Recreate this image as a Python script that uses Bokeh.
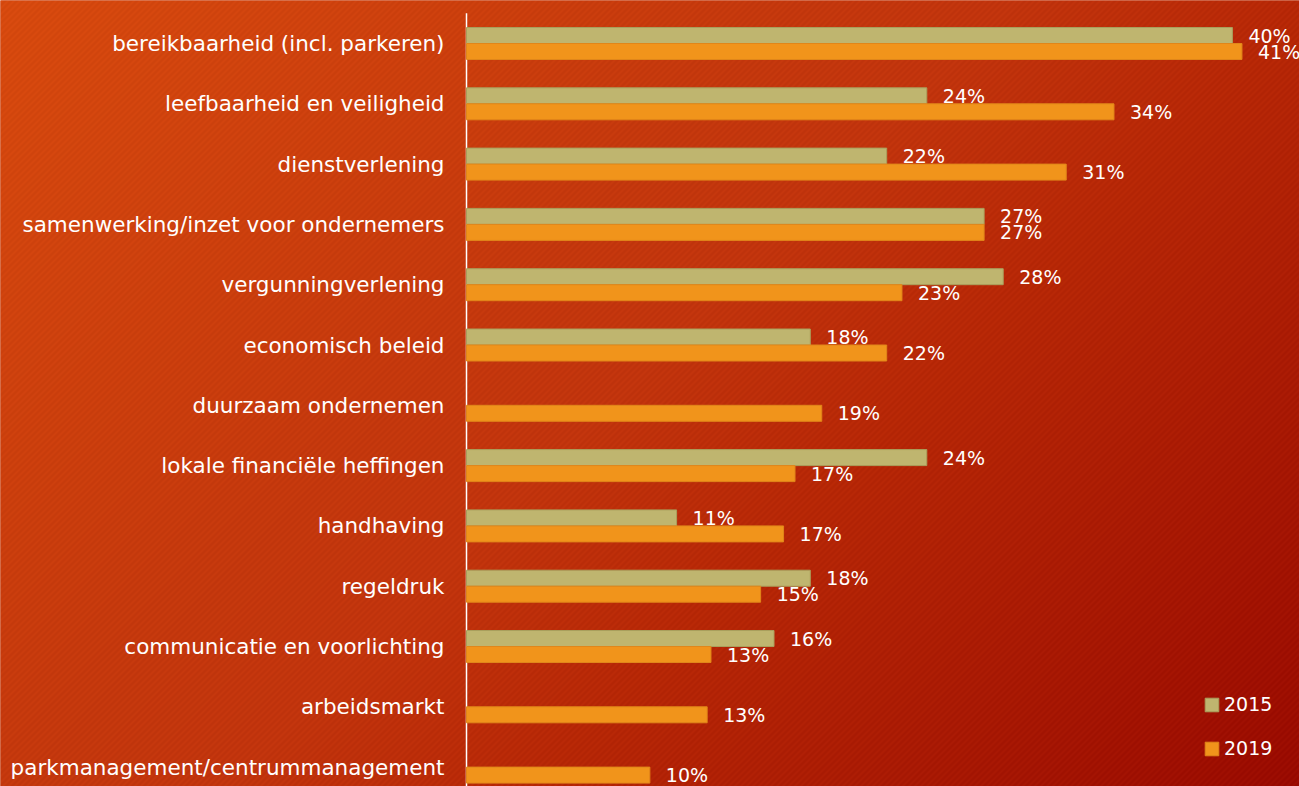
import numpy as np
from bokeh.plotting import figure
from bokeh.models import Range1d, ColumnDataSource, Legend, LegendItem
from bokeh.core.properties import value
from bokeh.embed import file_html
from bokeh.resources import INLINE

# ---------------- data ----------------
categories = [
    "bereikbaarheid (incl. parkeren)",
    "leefbaarheid en veiligheid",
    "dienstverlening",
    "samenwerking/inzet voor ondernemers",
    "vergunningverlening",
    "economisch beleid",
    "duurzaam ondernemen",
    "lokale financiële heffingen",
    "handhaving",
    "regeldruk",
    "communicatie en voorlichting",
    "arbeidsmarkt",
    "parkmanagement/centrummanagement",
]
values_2015 = [40.1, 24.1, 22.0, 27.1, 28.1, 18.0, None, 24.1, 11.0, 18.0, 16.1, None, None]
values_2019 = [40.6, 33.9, 31.4, 27.1, 22.8, 22.0, 18.6, 17.2, 16.6, 15.4, 12.8, 12.6, 9.6]
series_names = ["2015", "2019"]
series_colors = ["#BFB56F", "#F1941B"]
series_edges = ["#A99F5C", "#E0861A"]

# ---------------- geometry ----------------
W, H = 1299, 786
px_per_pct = 19.1
axis_px = 466
row_px = 60.3
row0_px = 43.0
x_start = -axis_px / px_per_pct
x_end = (W - axis_px) / px_per_pct
y_top = row0_px / row_px          # data y at top (rows at y = -i)
y_bottom = -(H - row0_px) / row_px
half = 8.0 / row_px
bar_h = 16.0 / row_px

p = figure(width=W, height=H, x_range=Range1d(x_start, x_end), y_range=Range1d(y_bottom, y_top),
           output_backend="svg", toolbar_location=None, min_border=0,
           x_axis_location=None, y_axis_location=None, outline_line_color=None)
p.grid.visible = False
p.background_fill_color = "#C23A0E"
p.border_fill_color = "#C23A0E"

# background gradient with fine diagonal stripes (image slightly larger than the frame)
PAD = 3
IW, IH = W + 2 * PAD, H + 2 * PAD
yy, xx = np.mgrid[0:IH, 0:IW]
sx = xx.astype(float) - PAD
sy = yy.astype(float) - PAD
t = np.clip((sx + sy) / (1299.0 + 786.0), 0, 1)
stops = [0.0, 0.38, 0.49, 0.62, 1.0]
R = np.interp(t, stops, [212, 193, 190, 180, 150])
G = np.interp(t, stops, [72, 54, 50, 38, 8])
B = np.interp(t, stops, [14, 12, 12, 6, 0])
stripe = (((sx + sy + 2 * PAD).astype(int) % 6) < 3) * 7.0
img = np.empty((IH, IW), dtype=np.uint32)
view = img.view(dtype=np.uint8).reshape((IH, IW, 4))
view[..., 0] = np.clip(R + stripe, 0, 255).astype(np.uint8)
view[..., 1] = np.clip(G + stripe * 0.6, 0, 255).astype(np.uint8)
view[..., 2] = np.clip(B + stripe * 0.3, 0, 255).astype(np.uint8)
view[..., 3] = 255
img = np.ascontiguousarray(np.flipud(img))
p.image_rgba(image=[img], x=x_start - PAD / px_per_pct, y=y_bottom - PAD / row_px,
             dw=(x_end - x_start) + 2 * PAD / px_per_pct, dh=(y_top - y_bottom) + 2 * PAD / row_px)

# axis line
p.segment(x0=[0], y0=[0.5], x1=[0], y1=[y_bottom - 1], line_color="white", line_width=1.5)

renderers = []
for k, (name, vals) in enumerate(zip(series_names, [values_2015, values_2019])):
    off = half if k == 0 else -half
    ys, xs, labs = [], [], []
    for i, v in enumerate(vals):
        if v is None:
            continue
        ys.append(-i + off)
        xs.append(v)
        labs.append(f"{round(v)}%")
    src = ColumnDataSource(dict(y=ys, x=xs, lab=labs))
    r = p.hbar(y="y", right="x", left=0, height=bar_h, source=src,
               fill_color=series_colors[k], line_color=series_edges[k], line_width=1)
    renderers.append(r)
    p.text(x="x", y="y", text="lab", source=src, x_offset=16, text_align="left",
           text_baseline="middle", text_color="white",
           text_font=value("DejaVu Sans"), text_font_size="19px")

# category labels
cat_src = ColumnDataSource(dict(y=[-i for i in range(len(categories))], x=[0] * len(categories),
                                lab=categories))
p.text(x="x", y="y", text="lab", source=cat_src, x_offset=-22, text_align="right",
       text_baseline="middle", text_color="white",
       text_font=value("DejaVu Sans"), text_font_size="21.5px")

legend = Legend(items=[LegendItem(label=series_names[k], renderers=[renderers[k]]) for k in range(2)],
                location=(1203, 27), orientation="vertical",
                background_fill_alpha=0, border_line_color=None,
                label_text_color="white", label_text_font="DejaVu Sans", label_text_font_size="19px",
                glyph_width=17, glyph_height=17, label_standoff=4, spacing=22,
                padding=0, margin=0, label_height=17)
p.add_layout(legend)

open("out.html", "w").write(file_html(p, INLINE))
